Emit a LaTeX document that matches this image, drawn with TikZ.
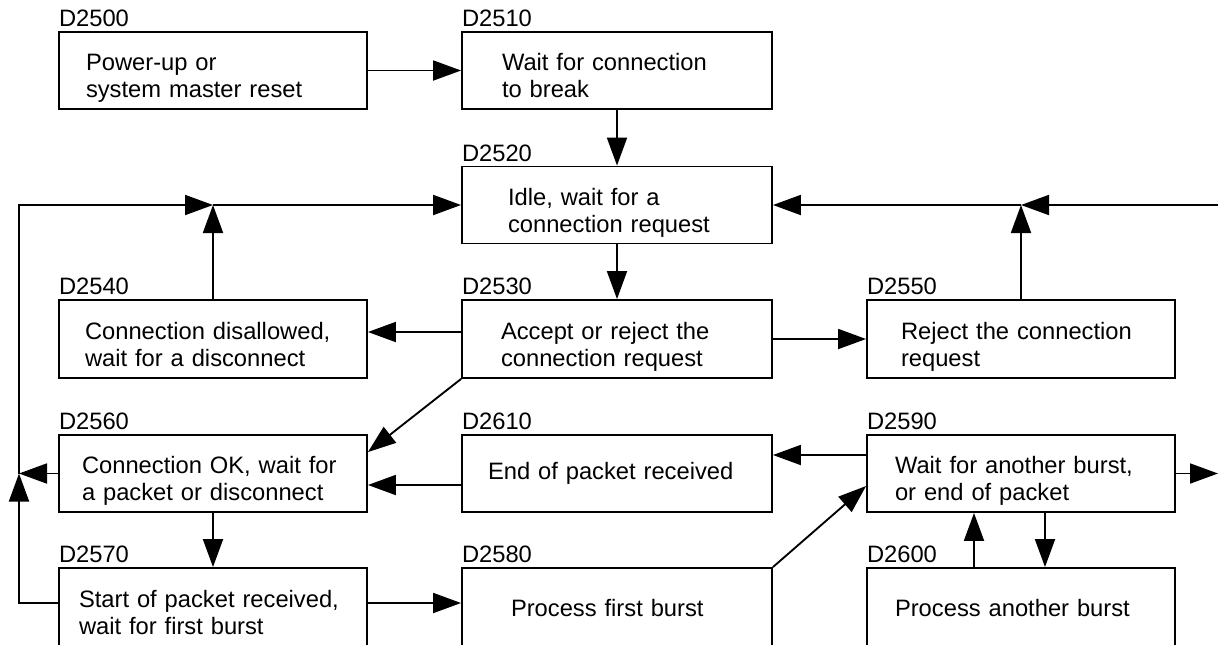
\documentclass[tikz,border=0pt]{standalone}
\usepackage{fontspec}
\setmainfont{Liberation Sans}
\usetikzlibrary{arrows.meta,calc}
\begin{document}
\begin{tikzpicture}[x=0.75pt,y=-0.75pt,
  font=\fontsize{17.8pt}{20.25pt}\selectfont,
  line width=1.4pt,
  arr/.style={-{Triangle[length=21pt,width=15pt]}},
  box/.style n args={3}{draw, rectangle, minimum width=#1, minimum height=57.75pt,
    text width=#2, inner xsep=#3, inner ysep=0pt, align=left},
  twoline/.style={text depth=12.75pt},
  lbl/.style={anchor=south west, inner sep=0pt, yshift=2.5pt}
]
\useasboundingbox (0,0) rectangle (1218,644);

% row 1
\node[box={231pt}{190.5pt}{20.25pt}, twoline] (D2500) at (213,70.5) {Power-up or\\system master reset};
\node[box={232.5pt}{172.5pt}{30pt}, twoline] (D2510) at (617,70.5) {Wait for connection\\to break};
% row 2
\node[box={232.5pt}{163.5pt}{34.5pt}, twoline] (D2520) at (617,205) {Idle, wait for a\\connection request};
% row 3
\node[box={231pt}{192pt}{19.5pt}, minimum height=58.5pt, twoline] (D2540) at (213,339) {Connection disallowed,\\wait for a disconnect};
\node[box={232.5pt}{174pt}{29.25pt}, minimum height=58.5pt, twoline] (D2530) at (617,339) {Accept or reject the\\connection request};
\node[box={231pt}{180pt}{25.5pt}, minimum height=58.5pt, twoline] (D2550) at (1021,339) {Reject the connection\\request};
% row 4
\node[box={231pt}{196.5pt}{17.25pt}, twoline] (D2560) at (213,473.5) {Connection OK, wait for\\a packet or disconnect};
\node[box={232.5pt}{193.5pt}{19.5pt}] (D2610) at (617,473.5) {End of packet received};
\node[box={231pt}{189pt}{21pt}, twoline] (D2590) at (1021,473.5) {Wait for another burst,\\or end of packet};
% row 5
\node[box={231pt}{201pt}{15pt}, minimum height=60pt, text depth=14pt] (D2570) at (213,608) {Start of packet received,\\wait for first burst};
\node[box={232.5pt}{159pt}{36.75pt}, minimum height=60pt] (D2580) at (617,608) {Process first burst};
\node[box={231pt}{189pt}{21pt}, minimum height=60pt] (D2600) at (1021,608) {Process another burst};

% labels
\node[lbl] (L2500) at (D2500.north west) {D2500};
\node[lbl] (L2510) at (D2510.north west) {D2510};
\node[lbl] (L2520) at (D2520.north west) {D2520};
\node[lbl] (L2530) at (D2530.north west) {D2530};
\node[lbl] (L2540) at (D2540.north west) {D2540};
\node[lbl] (L2550) at (D2550.north west) {D2550};
\node[lbl] (L2560) at (D2560.north west) {D2560};
\node[lbl] (L2610) at (D2610.north west) {D2610};
\node[lbl] (L2590) at (D2590.north west) {D2590};
\node[lbl] (L2570) at (D2570.north west) {D2570};
\node[lbl] (L2580) at (D2580.north west) {D2580};
\node[lbl] (L2600) at (D2600.north west) {D2600};

% junction coordinates
\coordinate (jL) at (D2540.north |- D2520.west);
\coordinate (jR) at (D2550.north |- D2520.east);
\coordinate (cL) at (19,473.5);
\coordinate (iR) at (1218,205);
\coordinate (oR) at (1218,473.5);

% connectors
\draw[arr] (D2500.east) -- (D2510.west);
\draw[arr] (D2510.south) -- (D2520.north);
\draw[arr] (D2520.south) -- (D2530.north);
\draw[arr] ($(D2530.west)+(0,-7)$) -- ($(D2540.east)+(0,-7)$);
\draw[arr] (D2530.east) -- (D2550.west);
\draw[arr] (D2540.north) -- (jL);
\draw[arr] (D2560.west) -- (cL);
\draw[arr] ($(D2570.west)+(0,-5)$) -| (cL);
\draw[arr] (cL) |- (jL);
\draw[arr] (jL) -- (D2520.west);
\draw[arr] (D2560.south) -- (D2570.north);
\draw[arr] ($(D2570.east)+(0,-5)$) -- ($(D2580.west)+(0,-5)$);
\draw[arr] (D2530.south west) -- ($(D2560.north east)+(0,18)$);
\draw[arr] ($(D2610.west)+(0,11.5)$) -- ($(D2560.east)+(0,11.5)$);
\draw[arr] ($(D2590.west)+(0,-18.5)$) -- ($(D2610.east)+(0,-18.5)$);
\draw[arr] (D2580.north east) -- ($(D2590.west)+(0,12.5)$);
\draw[arr] (D2590.east) -- (oR);
\draw[arr] ($(D2590.south)+(24,0)$) -- ($(D2600.north)+(24,0)$);
\draw[arr] ($(D2600.north)+(-47,0)$) -- ($(D2590.south)+(-47,0)$);
\draw[arr] (D2550.north) -- (jR);
\draw[arr] (iR) -- (jR);
\draw[arr] (jR) -- (D2520.east);
\end{tikzpicture}
\end{document}
